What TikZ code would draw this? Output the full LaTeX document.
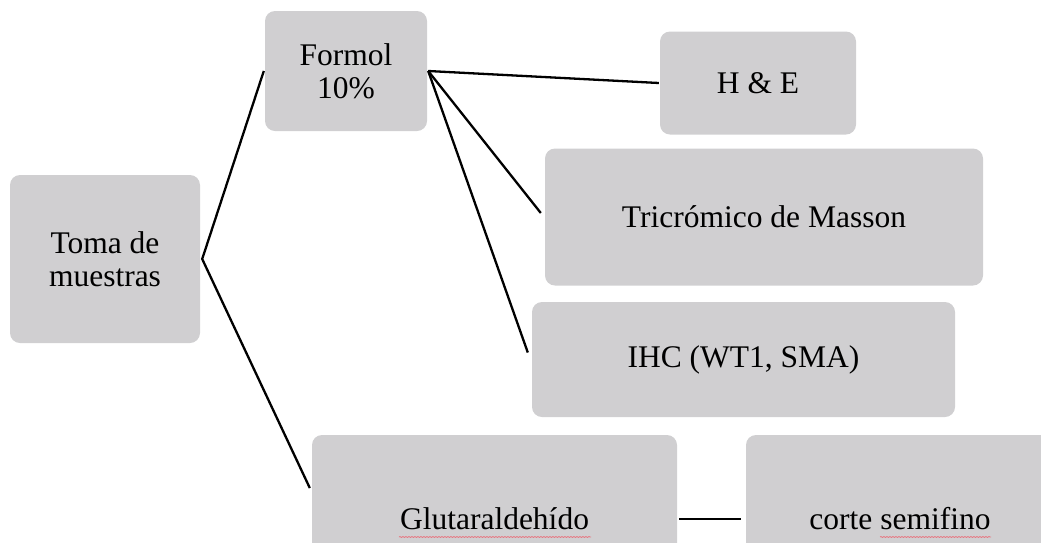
\documentclass[tikz,border=0pt]{standalone}
\usepackage{fontspec}
\setmainfont{Liberation Serif}
\usetikzlibrary{calc,decorations.pathmorphing}
\definecolor{boxgray}{RGB}{208,207,209}
\definecolor{spell}{RGB}{230,120,130}
\tikzset{
  gbox/.style={fill=boxgray, rounded corners=10pt, inner sep=0pt, align=center,
    font=\fontsize{31.5}{33}\selectfont, anchor=center},
  conn/.style={line width=2.3pt, black},
  spellline/.style={spell, line width=0.8pt, decorate,
    decoration={snake, amplitude=0.5pt, segment length=3pt}}
}
\begin{document}
\begin{tikzpicture}[x=1pt,y=-1pt]
\useasboundingbox (0,0) rectangle (1041,542);
\clip (0,0) rectangle (1041,542);
% boxes
\node[gbox, minimum width=190pt, minimum height=168pt] (toma) at (105,259) {Toma de\\muestras};
\node[gbox, minimum width=162pt, minimum height=120pt] (formol) at (346,71) {Formol\\10\%};
\node[gbox, minimum width=196pt, minimum height=103pt] (he) at (758,83) {H \& E};
\node[gbox, minimum width=438pt, minimum height=137pt] (tri) at (764,217) {Tricrómico de Masson};
\node[gbox, minimum width=423pt, minimum height=115pt] (ihc) at (743.5,359.5) {IHC (WT1, SMA)};
\node[gbox, minimum width=365pt, minimum height=168pt] (glut) at (494.5,519) {Glutaraldehído};
\node[gbox, minimum width=308pt, minimum height=168pt] (corte) at (900,519) {corte semifino};
% connector points
\coordinate (tv) at ($(toma.east)+(2,0)$);
\coordinate (fv) at ($(formol.east)+(1,0)$);
\coordinate (fin) at ($(formol.west)+(-1,0)$);
\coordinate (gin) at ($(glut.west)+(-2,-31)$);
\coordinate (hein) at ($(he.west)+(-1,0)$);
\coordinate (triin) at ($(tri.west)+(-4,-4)$);
\coordinate (ihcin) at ($(ihc.west)+(-4,-7)$);
\coordinate (gout) at ($(glut.east)+(2,0)$);
\coordinate (cin) at ($(corte.west)+(-5,0)$);
% connectors
\draw[conn] (fin) -- (tv) -- (gin);
\draw[conn] (fv) -- (hein);
\draw[conn] (fv) -- (triin);
\draw[conn] (fv) -- (ihcin);
\draw[conn] (gout) -- (cin);
% spell-check underlines
\draw[spellline] (399,537) -- (591,537);
\draw[spellline] (880,537) -- (991,537);
\end{tikzpicture}
\end{document}
